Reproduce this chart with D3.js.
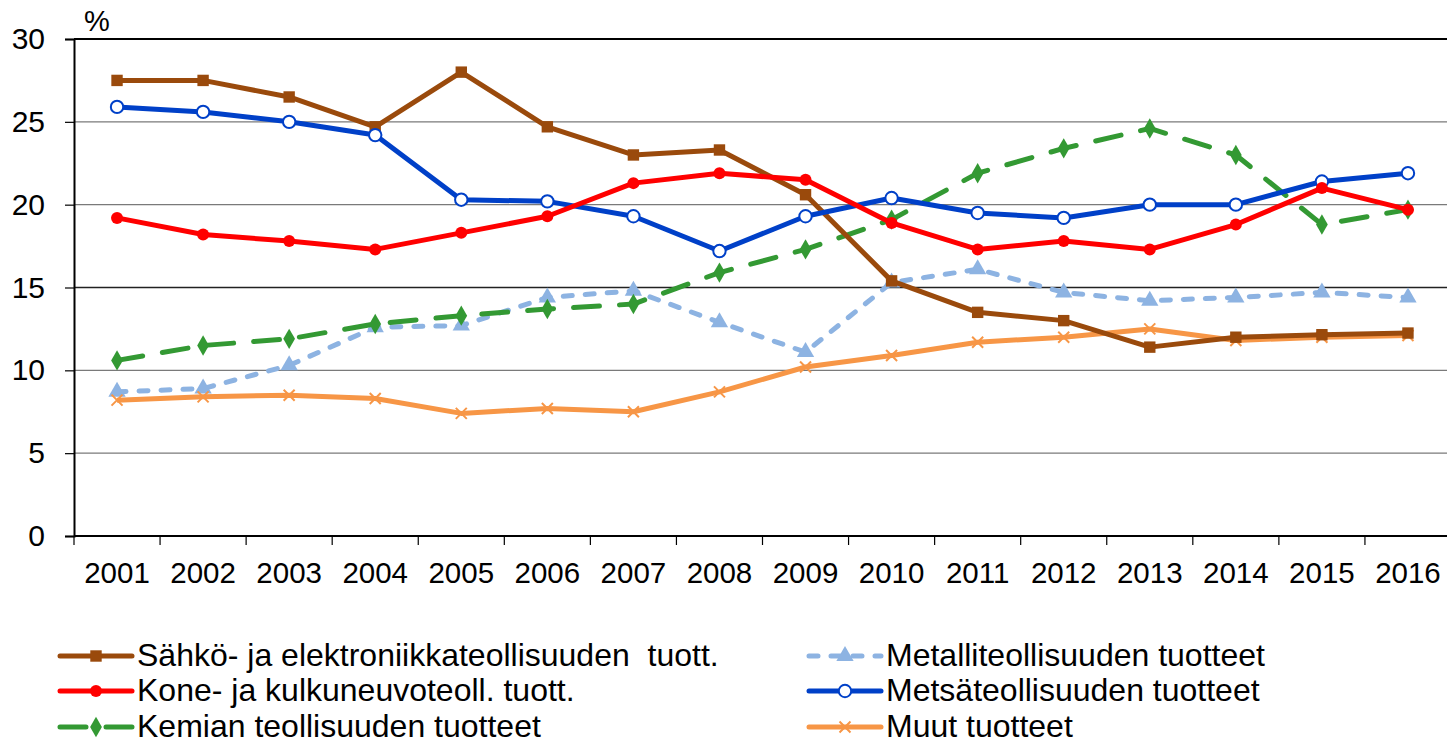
<!DOCTYPE html>
<html lang="fi">
<head>
<meta charset="UTF-8">
<title>Vienti tuoteryhmittäin</title>
<script src="https://cdn.jsdelivr.net/npm/d3@7"></script>
<style>
    body { margin: 0; background: #fff; }
    svg { display: block; font-family: "Liberation Sans", Arial, sans-serif; }
    .legend text { white-space: pre; }
</style>
</head>
<body>
<svg id="chart" width="1447" height="745"></svg>
<script>
    // data
    var years = ["2001", "2002", "2003", "2004", "2005", "2006", "2007", "2008",
                 "2009", "2010", "2011", "2012", "2013", "2014", "2015", "2016"];
    var yTicks = [0, 5, 10, 15, 20, 25, 30];

    var sahko   = [27.5, 27.5, 26.5, 24.7, 28.0, 24.7, 23.0, 23.3, 20.6, 15.4, 13.5, 13.0, 11.4, 12.0, 12.15, 12.25];
    var kone    = [19.2, 18.2, 17.8, 17.3, 18.3, 19.3, 21.3, 21.9, 21.5, 18.9, 17.3, 17.8, 17.3, 18.8, 21.0, 19.7];
    var kemia   = [10.6, 11.5, 11.9, 12.8, 13.3, 13.7, 14.0, 15.9, 17.3, 19.1, 21.9, 23.4, 24.6, 23.0, 18.8, 19.7];
    var metalli = [8.7, 8.9, 10.3, 12.6, 12.7, 14.4, 14.8, 12.9, 11.1, 15.3, 16.1, 14.7, 14.2, 14.4, 14.7, 14.4];
    var metsa   = [25.9, 25.6, 25.0, 24.2, 20.3, 20.2, 19.3, 17.2, 19.3, 20.4, 19.5, 19.2, 20.0, 20.0, 21.4, 21.9];
    var muut    = [8.2, 8.4, 8.5, 8.3, 7.4, 7.7, 7.5, 8.7, 10.2, 10.9, 11.7, 12.0, 12.5, 11.8, 12.0, 12.1];

    var series = [
        { name: "Sähkö- ja elektroniikkateollisuuden  tuott.", values: sahko, color: "#9A4A0C", dash: null, marker: "square" },
        { name: "Kone- ja kulkuneuvoteoll. tuott.", values: kone, color: "#FF0000", dash: null, marker: "circle" },
        { name: "Kemian teollisuuden tuotteet", values: kemia, color: "#339933", dash: "26,20", marker: "diamond" },
        { name: "Metalliteollisuuden tuotteet", values: metalli, color: "#8DB3E2", dash: "9,13", marker: "triangle" },
        { name: "Metsäteollisuuden tuotteet", values: metsa, color: "#0040C8", dash: null, marker: "open" },
        { name: "Muut tuotteet", values: muut, color: "#F79646", dash: null, marker: "x" }
    ];

    var svg = d3.select("#chart"),
        plotLeft = 74, plotRight = 1451, plotTop = 39, plotBottom = 536;

    var x = d3.scalePoint().domain(years).range([plotLeft, plotRight]).padding(0.5);
    var xBand = d3.scaleBand().domain(years).range([plotLeft, plotRight]);
    var y = d3.scaleLinear().domain([0, 30]).range([plotBottom, plotTop]);

    // gridlines
    svg.append("g")
        .selectAll("line")
        .data(yTicks.filter(function (d) { return d > 0 && d < 30; }))
        .enter().append("line")
        .attr("x1", plotLeft).attr("x2", plotRight)
        .attr("y1", function (d) { return y(d); })
        .attr("y2", function (d) { return y(d); })
        .attr("stroke", function (d) { return d === 15 ? "#222" : "#7a7a7a"; })
        .attr("stroke-width", 1.3);

    // top border
    svg.append("line")
        .attr("x1", plotLeft).attr("x2", plotRight)
        .attr("y1", y(30)).attr("y2", y(30))
        .attr("stroke", "#000").attr("stroke-width", 2);

    // y axis
    var yAxis = d3.axisLeft(y).tickValues(yTicks).tickSize(9).tickPadding(20);
    var gy = svg.append("g").attr("transform", "translate(" + plotLeft + ",0)").call(yAxis);
    gy.select(".domain").attr("stroke", "#000").attr("stroke-width", 2);
    gy.selectAll(".tick line").attr("stroke", "#000").attr("stroke-width", 1.2);
    gy.selectAll(".tick text")
        .attr("font-size", 30).attr("fill", "#000")
        .attr("font-family", "Liberation Sans, Arial, sans-serif");

    // x axis: ticks at category boundaries
    svg.append("line")
        .attr("x1", plotLeft).attr("x2", plotRight)
        .attr("y1", plotBottom).attr("y2", plotBottom)
        .attr("stroke", "#000").attr("stroke-width", 2);
    var bounds = years.map(function (d) { return xBand(d); });
    svg.append("g").selectAll("line")
        .data(bounds)
        .enter().append("line")
        .attr("x1", function (d) { return d; }).attr("x2", function (d) { return d; })
        .attr("y1", plotBottom).attr("y2", plotBottom + 9)
        .attr("stroke", "#000").attr("stroke-width", 1.2);
    svg.append("g").selectAll("text")
        .data(years)
        .enter().append("text")
        .attr("x", function (d) { return x(d); })
        .attr("y", 583)
        .attr("text-anchor", "middle")
        .attr("font-size", 29.5)
        .text(function (d) { return d; });

    svg.append("text")
        .attr("x", 84).attr("y", 31)
        .attr("font-size", 29)
        .text("%");

    // marker drawing
    function drawMarker(g, type, color) {
        if (type === "square") {
            g.append("path").attr("d", d3.symbol(d3.symbolSquare, 130)()).attr("fill", color);
        } else if (type === "circle") {
            g.append("circle").attr("r", 6).attr("fill", color);
        } else if (type === "diamond") {
            g.append("path").attr("d", d3.symbol(d3.symbolDiamond, 120)()).attr("fill", color);
        } else if (type === "triangle") {
            g.append("path").attr("d", d3.symbol(d3.symbolTriangle, 130)()).attr("fill", color);
        } else if (type === "open") {
            g.append("circle").attr("r", 6.2).attr("fill", "#fff").attr("stroke", color).attr("stroke-width", 2);
        } else if (type === "x") {
            g.append("path").attr("d", "M-5.5,-5.5L5.5,5.5M-5.5,5.5L5.5,-5.5")
                .attr("stroke", color).attr("stroke-width", 2).attr("fill", "none");
        }
    }

    var line = d3.line()
        .x(function (d, i) { return x(years[i]); })
        .y(function (d) { return y(d); });

    var order = [3, 2, 5, 0, 4, 1];
    order.forEach(function (k) {
        var s = series[k];
        var g = svg.append("g");
        g.append("path")
            .datum(s.values)
            .attr("fill", "none")
            .attr("stroke", s.color)
            .attr("stroke-width", 5)
            .attr("stroke-linejoin", "round")
            .attr("stroke-linecap", s.dash ? "round" : "butt")
            .attr("stroke-dasharray", s.dash)
            .attr("d", line);
        s.values.forEach(function (v, i) {
            var m = g.append("g").attr("transform", "translate(" + x(years[i]) + "," + y(v) + ")");
            drawMarker(m, s.marker, s.color);
        });
    });

    // legend: two columns
    var legendPos = [
        [58, 656], [58, 691], [58, 727],
        [807, 656], [807, 691], [807, 727]
    ];
    var lg = svg.append("g").attr("class", "legend");
    series.forEach(function (s, j) {
        var p = legendPos[j];
        var item = lg.append("g").attr("transform", "translate(" + p[0] + "," + p[1] + ")");
        item.append("line")
            .attr("x1", 2).attr("x2", 74)
            .attr("stroke", s.color)
            .attr("stroke-width", 5)
            .attr("stroke-linecap", "round")
            .attr("stroke-dasharray", s.dash);
        var m = item.append("g").attr("transform", "translate(38,0)");
        drawMarker(m, s.marker, s.color);
        item.append("text")
            .attr("x", 79).attr("y", 10)
            .attr("font-size", 32)
            .text(s.name);
    });
</script>
</body>
</html>
